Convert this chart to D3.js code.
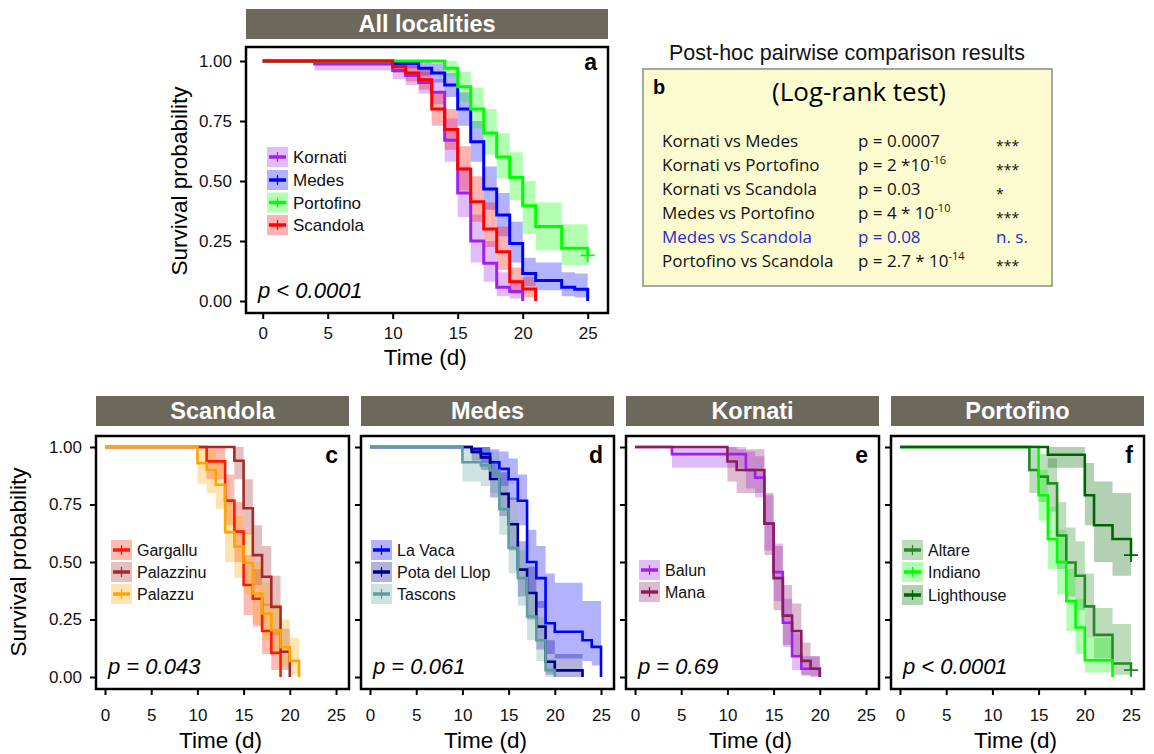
<!DOCTYPE html>
<html>
<head>
<meta charset="utf-8">
<script src="https://cdn.jsdelivr.net/npm/d3@7"></script>
<style>
body { margin: 0; background: #fff; }
svg { font-family: "Liberation Sans", Arial, sans-serif; }
</style>
</head>
<body>
<div id="chart"></div>
<script>

// axis ticks
var timeTicks = [0, 5, 10, 15, 20, 25];
var survTicks = [0, 0.25, 0.5, 0.75, 1];

// each row: [time, survival, lower, upper]
// a : all localities
var kornati = [[0,1,1,1],[4,0.988,0.96,1],[10,0.96,0.925,0.99],[11,0.94,0.90,0.98],[12,0.91,0.865,0.955],[13,0.87,0.82,0.925],[14,0.67,0.58,0.76],[15,0.45,0.35,0.56],[16,0.25,0.16,0.36],[17,0.157,0.08,0.25],[18,0.057,0.02,0.12],[19,0.04,0.01,0.09],[20,0,0,0]];
var medes = [[0,1,1,1],[10,0.99,0.97,1],[12,0.97,0.94,1],[13,0.95,0.91,0.99],[14,0.90,0.85,0.95],[15,0.80,0.73,0.87],[16,0.664,0.58,0.75],[17,0.467,0.38,0.56],[18,0.358,0.27,0.45],[19,0.24,0.16,0.33],[20,0.115,0.06,0.18],[21,0.085,0.045,0.16],[23,0.057,0.02,0.12],[24,0.049,0.015,0.115],[25,0,0,0]];
var portofino = [[0,1,1,1],[14,0.97,0.935,1],[15,0.893,0.83,0.955],[16,0.80,0.72,0.89],[17,0.70,0.61,0.80],[18,0.60,0.51,0.70],[19,0.515,0.42,0.62],[20,0.397,0.28,0.50],[21,0.31,0.21,0.41],[23,0.22,0.15,0.32],[25,0.19,0.19,0.19]];
var scandola = [[0,1,1,1],[10,0.976,0.95,1],[11,0.95,0.915,0.99],[12,0.922,0.88,0.97],[13,0.80,0.73,0.87],[14,0.715,0.63,0.80],[15,0.55,0.46,0.645],[16,0.414,0.33,0.52],[17,0.30,0.225,0.41],[18,0.205,0.13,0.31],[19,0.08,0.03,0.14],[20,0.05,0.015,0.10],[21,0,0,0]];
var portofinoCensor = [[25, 0.19]];

// c : Scandola sites
var gargallu = [[0,1,1,1],[11,0.9375,0.86,1],[13,0.767,0.66,0.88],[14,0.632,0.50,0.76],[15,0.40,0.27,0.53],[16,0.34,0.22,0.47],[17,0.20,0.10,0.32],[18,0.105,0.03,0.20],[19,0,0,0]];
var palazzinu = [[0,1,1,1],[14,0.94,0.86,1],[15,0.734,0.62,0.86],[16,0.53,0.40,0.66],[17,0.436,0.31,0.57],[18,0.305,0.18,0.44],[19,0.11,0.03,0.21],[20,0,0,0]];
var palazzu = [[0,1,1,1],[10,0.93,0.84,1],[11,0.90,0.80,0.99],[12,0.836,0.73,0.94],[13,0.63,0.50,0.76],[14,0.567,0.43,0.70],[15,0.497,0.36,0.63],[16,0.363,0.23,0.50],[17,0.276,0.16,0.41],[18,0.203,0.10,0.32],[19,0.13,0.05,0.25],[20,0.07,0.01,0.17],[21,0,0,0]];

// d : Medes sites
var laVaca = [[0,1,1,1],[11,0.99,0.97,1],[12,0.97,0.93,1],[13,0.934,0.87,0.99],[14,0.905,0.83,0.98],[15,0.86,0.77,0.95],[16,0.766,0.66,0.88],[17,0.50,0.37,0.64],[18,0.43,0.30,0.57],[19,0.234,0.10,0.45],[20,0.197,0.08,0.41],[23,0.16,0.07,0.33],[24,0.131,0.05,0.33],[25,0,0,0]];
var potaDelLlop = [[0,1,1,1],[11,0.978,0.94,1],[12,0.955,0.90,1],[13,0.861,0.78,0.94],[14,0.796,0.70,0.89],[15,0.664,0.55,0.78],[16,0.467,0.35,0.59],[17,0.365,0.25,0.48],[18,0.219,0.12,0.33],[19,0.066,0.01,0.16],[20,0.029,0,0.10],[23,0,0,0]];
var tascons = [[0,1,1,1],[10,0.934,0.85,1],[12,0.92,0.83,0.99],[13,0.898,0.80,0.98],[14,0.73,0.62,0.84],[15,0.562,0.45,0.68],[16,0.43,0.31,0.55],[17,0.263,0.16,0.38],[18,0.16,0.07,0.26],[19,0.03,0,0.08],[20,0,0,0]];

// e : Kornati sites
var balun = [[0,1,1,1],[4,0.969,0.91,1],[12,0.90,0.82,0.98],[13,0.867,0.78,0.96],[14,0.667,0.55,0.79],[15,0.456,0.33,0.58],[16,0.236,0.13,0.34],[17,0.09,0.03,0.19],[18,0.036,0.005,0.09],[20,0,0,0]];
var mana = [[0,1,1,1],[10,0.937,0.85,1],[11,0.90,0.80,0.99],[14,0.667,0.53,0.80],[15,0.43,0.29,0.57],[16,0.267,0.14,0.40],[17,0.20,0.09,0.32],[18,0.07,0.01,0.15],[19,0.036,0,0.09],[20,0,0,0]];

// f : Portofino sites
var altare = [[0,1,1,1],[14,0.90,0.80,0.99],[15,0.871,0.76,0.97],[16,0.842,0.72,0.95],[17,0.615,0.47,0.76],[18,0.498,0.35,0.65],[19,0.44,0.29,0.59],[20,0.307,0.17,0.45],[21,0.183,0.08,0.30],[23,0.059,0.01,0.23],[25,0.03,0.03,0.03]];
var indiano = [[0,1,1,1],[15,0.79,0.68,0.90],[16,0.60,0.47,0.74],[17,0.50,0.36,0.64],[18,0.33,0.20,0.47],[19,0.215,0.10,0.34],[20,0.073,0.02,0.17],[23,0,0,0]];
var lighthouse = [[0,1,1,1],[16,0.966,0.91,1],[20,0.79,0.66,0.93],[21,0.66,0.50,0.85],[23,0.60,0.44,0.80],[25,0.53,0.53,0.53]];
var altareCensor = [[25, 0.03]];
var lighthouseCensor = [[25, 0.53]];

// b : post-hoc log-rank table
var pairNames = ["Kornati vs Medes", "Kornati vs Portofino", "Kornati vs Scandola", "Medes vs Portofino", "Medes vs Scandola", "Portofino  vs Scandola"];
var pairP = ["p = 0.0007", "p = 2 *10", "p = 0.03", "p = 4 * 10", "p = 0.08", "p = 2.7 * 10"];
var pairExp = ["", "-16", "", "-10", "", "-14"];
var pairSig = ["***", "***", "*", "***", "n. s.", "***"];

var banner = "#6c685b";

var svg = d3.select("#chart")
  .append("svg")
  .attr("width", 1154)
  .attr("height", 754);

function drawPanel(p) {
  var g = svg.append("g");

  var x = d3.scaleLinear().domain([0, 25]).range([p.x0, p.x1]);
  var y = d3.scaleLinear().domain([0, 1]).range([p.yZero, p.yOne]);

  // title strip
  g.append("rect")
    .attr("x", p.left).attr("y", p.stripTop)
    .attr("width", p.right - p.left).attr("height", 30)
    .attr("fill", banner);
  g.append("text")
    .attr("x", (p.left + p.right) / 2).attr("y", p.stripTop + 23)
    .attr("text-anchor", "middle")
    .attr("font-size", 23.5).attr("font-weight", "bold")
    .attr("fill", "#fff")
    .text(p.title);

  var band = d3.area()
    .curve(d3.curveStepAfter)
    .x(function(d) { return x(d[0]); })
    .y0(function(d) { return y(d[2]); })
    .y1(function(d) { return y(d[3]); });
  var step = d3.line()
    .curve(d3.curveStepAfter)
    .x(function(d) { return x(d[0]); })
    .y(function(d) { return y(d[1]); });

  p.series.forEach(function(s) {
    g.append("path").attr("d", band(s.data))
      .attr("fill", s.color).attr("fill-opacity", 0.3);
  });
  p.series.forEach(function(s) {
    g.append("path").attr("d", step(s.data))
      .attr("fill", "none").attr("stroke", s.color)
      .attr("stroke-width", p.lw);
    (s.censor || []).forEach(function(c) {
      g.append("path")
        .attr("d", "M" + (x(c[0]) - 7) + "," + y(c[1]) + "h14M" + x(c[0]) + "," + (y(c[1]) - 7) + "v14")
        .attr("stroke", s.color).attr("stroke-width", 1.8);
    });
  });

  // frame
  g.append("rect")
    .attr("x", p.left).attr("y", p.top)
    .attr("width", p.right - p.left).attr("height", p.bottom - p.top)
    .attr("fill", "none").attr("stroke", "#000").attr("stroke-width", 2.5);

  // axes
  var ya = g.append("g")
    .attr("transform", "translate(" + (p.left - 1) + ",0)")
    .call(d3.axisLeft(y).tickValues(survTicks).tickSize(5).tickPadding(8)
      .tickFormat(p.yLabels ? d3.format(".2f") : ""));
  var xa = g.append("g")
    .attr("transform", "translate(0," + (p.bottom + 1) + ")")
    .call(d3.axisBottom(x).tickValues(timeTicks).tickSize(5).tickPadding(p.xPad));
  [ya, xa].forEach(function(a) {
    a.select(".domain").remove();
    a.selectAll("line").attr("stroke", "#000").attr("stroke-width", 2);
    a.selectAll("text").attr("font-size", 17).attr("fill", "#111")
      .attr("font-family", "Liberation Sans, Arial, sans-serif");
  });

  g.append("text")
    .attr("x", (p.x0 + p.x1) / 2).attr("y", p.bottom + p.xTitleDy)
    .attr("text-anchor", "middle").attr("font-size", 22.5)
    .text("Time (d)");
  if (p.yLabels) {
    g.append("text")
      .attr("transform", "translate(" + p.yTitleX + "," + (p.yZero + p.yOne) / 2 + ") rotate(-90)")
      .attr("text-anchor", "middle").attr("font-size", 22.5)
      .text("Survival probability");
  }

  // panel letter and p value
  g.append("text")
    .attr("x", p.right - 11).attr("y", p.top + p.letterDy)
    .attr("text-anchor", "end").attr("font-size", 23).attr("font-weight", "bold")
    .text(p.letter);
  g.append("text")
    .attr("x", p.left + 12).attr("y", p.yZero - 3)
    .attr("font-size", 22).attr("font-style", "italic")
    .text(p.pText);

  // legend
  p.series.forEach(function(s, i) {
    var cy = p.legendY[i];
    var lx = p.left + p.legendDx;
    g.append("rect").attr("x", lx).attr("y", cy - 10).attr("width", 21).attr("height", 20)
      .attr("fill", s.color).attr("fill-opacity", 0.3);
    g.append("line").attr("x1", lx + 2).attr("x2", lx + 19).attr("y1", cy).attr("y2", cy)
      .attr("stroke", s.color).attr("stroke-width", 3.5);
    g.append("line").attr("x1", lx + 10.5).attr("x2", lx + 10.5).attr("y1", cy - 5).attr("y2", cy + 5)
      .attr("stroke", s.color).attr("stroke-width", 1.2);
    g.append("text").attr("x", lx + 26).attr("y", cy + 6)
      .attr("font-size", p.legendSize).attr("fill", "#111")
      .text(s.name);
  });
}

// a
drawPanel({
  title: "All localities", letter: "a", pText: "p < 0.0001",
  left: 246, right: 608, top: 47, bottom: 313, stripTop: 9,
  x0: 262.7, x1: 587.7, yZero: 301, yOne: 61,
  yLabels: true, yTitleX: 187, letterDy: 23, lw: 3, xPad: 8, xTitleDy: 52,
  legendDx: 21, legendY: [157, 180, 202.5, 225], legendSize: 17,
  series: [
    { name: "Kornati", color: "#a020f0", data: kornati },
    { name: "Medes", color: "#0000ff", data: medes },
    { name: "Portofino", color: "#00ff00", data: portofino, censor: portofinoCensor },
    { name: "Scandola", color: "#ff0000", data: scandola }
  ]
});

// lower row
var lowerLeft = [96, 361, 626, 891];
var lower = [
  { title: "Scandola", letter: "c", pText: "p = 0.043", legendDx: 15, legendY: [550, 572, 594],
    series: [
      { name: "Gargallu", color: "#ff1a00", data: gargallu },
      { name: "Palazzinu", color: "#a52a2a", data: palazzinu },
      { name: "Palazzu", color: "#ffa500", data: palazzu }
    ] },
  { title: "Medes", letter: "d", pText: "p = 0.061", legendDx: 10, legendY: [550, 572, 594],
    series: [
      { name: "La Vaca", color: "#0000ff", data: laVaca },
      { name: "Pota del Llop", color: "#00008b", data: potaDelLlop },
      { name: "Tascons", color: "#5f9ea0", data: tascons }
    ] },
  { title: "Kornati", letter: "e", pText: "p = 0.69", legendDx: 13, legendY: [570, 592],
    series: [
      { name: "Balun", color: "#a020f0", data: balun },
      { name: "Mana", color: "#8b1c62", data: mana }
    ] },
  { title: "Portofino", letter: "f", pText: "p < 0.0001", legendDx: 11, legendY: [550, 572, 595],
    series: [
      { name: "Altare", color: "#228b22", data: altare, censor: altareCensor },
      { name: "Indiano", color: "#00ff00", data: indiano },
      { name: "Lighthouse", color: "#006400", data: lighthouse, censor: lighthouseCensor }
    ] }
];
lower.forEach(function(p, i) {
  var L = lowerLeft[i];
  p.left = L; p.right = L + 253; p.top = 436; p.bottom = 689; p.stripTop = 396;
  p.x0 = L + 9; p.x1 = L + 240; p.yZero = 677; p.yOne = 447;
  p.yLabels = (i === 0); p.yTitleX = 26; p.letterDy = 27; p.lw = 2.6;
  p.xPad = 14; p.xTitleDy = 59;
  p.legendSize = 16;
  drawPanel(p);
});

// b : comparison table
var tb = svg.append("g");
tb.append("text")
  .attr("x", 847).attr("y", 60).attr("text-anchor", "middle")
  .attr("font-size", 21.5).attr("fill", "#111")
  .text("Post-hoc pairwise comparison results");
tb.append("rect")
  .attr("x", 643).attr("y", 69).attr("width", 409).attr("height", 217)
  .attr("fill", "#fdfcd0").attr("stroke", "#a6a6a6").attr("stroke-width", 2);
tb.append("text")
  .attr("x", 653).attr("y", 94).attr("font-size", 20).attr("font-weight", "bold")
  .text("b");
tb.append("text")
  .attr("x", 859).attr("y", 101).attr("text-anchor", "middle")
  .attr("font-family", "Open Sans, sans-serif").attr("font-size", 26)
  .text("(Log-rank test)");

pairNames.forEach(function(name, i) {
  var yy = 147 + 24 * i;
  var col = name === "Medes vs Scandola" ? "#2a2ac8" : "#111";
  var row = tb.append("g").attr("font-family", "Open Sans, sans-serif")
    .attr("font-size", 17).attr("fill", col);
  row.append("text").attr("x", 662).attr("y", yy).text(name);
  var pt = row.append("text").attr("x", 858).attr("y", yy).text(pairP[i]);
  if (pairExp[i]) {
    pt.append("tspan").attr("dy", -7).attr("font-size", 11).text(pairExp[i]);
  }
  row.append("text").attr("x", 996).attr("y", pairSig[i].indexOf("*") === 0 ? yy + 4 : yy)
    .attr("font-size", pairSig[i].indexOf("*") === 0 ? 14 : 17)
    .text(pairSig[i]);
});

</script>
</body>
</html>
